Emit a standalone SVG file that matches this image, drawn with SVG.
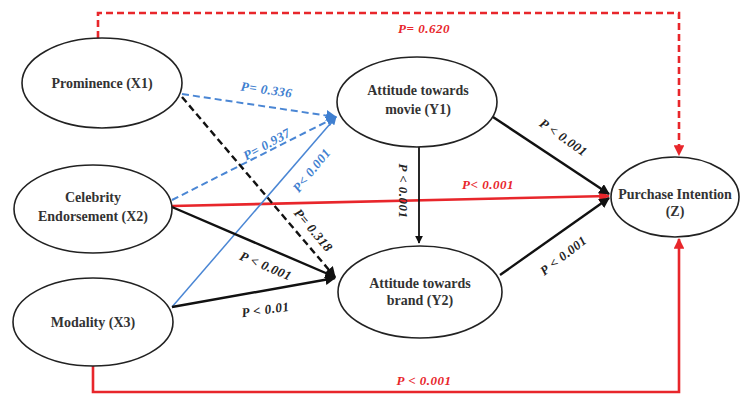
<svg xmlns="http://www.w3.org/2000/svg" width="742" height="396" viewBox="0 0 742 396">
<style>
.node ellipse{fill:#fff;stroke:#222;stroke-width:1.6}
.nt{font-family:"Liberation Serif","Times New Roman",serif;font-weight:bold;font-size:14px;fill:#333;text-anchor:middle}
.lb{font-family:"Liberation Serif","Times New Roman",serif;font-weight:bold;font-style:italic;font-size:13px;letter-spacing:0.5px;text-anchor:middle}
.k{fill:#222}.r{fill:#e8262b}.b{fill:#3f7fd0}
.ck{stroke:#111;stroke-width:2.4;fill:none}
.cr{stroke:#e8262b;stroke-width:2.6;fill:none}
.cb{stroke:#4a86d4;stroke-width:2;fill:none}
.dash{stroke-dasharray:7 4}
</style>
<defs>
<marker id="ak" viewBox="0 0 10 10" refX="9" refY="5" markerWidth="4.5" markerHeight="4.5" orient="auto" markerUnits="strokeWidth"><path d="M0,0L10,5L0,10z" fill="#111"/></marker>
<marker id="ar" viewBox="0 0 10 10" refX="9" refY="5" markerWidth="4.2" markerHeight="4.2" orient="auto" markerUnits="strokeWidth"><path d="M0,0L10,5L0,10z" fill="#e8262b"/></marker>
<marker id="ab" viewBox="0 0 10 10" refX="9" refY="5" markerWidth="5.5" markerHeight="5.5" orient="auto" markerUnits="strokeWidth"><path d="M0,0L10,5L0,10z" fill="#3f7fd0"/></marker>
</defs>
<rect width="742" height="396" fill="#fff"/>
<g id="connectors">
<path class="cr dash" d="M98,38V13H679V155" marker-end="url(#ar)"/>
<path class="cr" d="M93,366V392H679V239" marker-end="url(#ar)"/>
<path class="cr" d="M172,206L609,196" marker-end="url(#ar)"/>
<path class="cb dash" d="M182,94L336,117" marker-end="url(#ab)"/>
<path class="cb dash" d="M172,200L336,117" marker-end="url(#ab)"/>
<path class="cb" style="stroke-width:1.5" d="M172,307L336,117" marker-end="url(#ab)"/>
<path class="ck dash" d="M182,97L335,277" marker-end="url(#ak)"/>
<path class="ck" d="M172,207L335,277" marker-end="url(#ak)"/>
<path class="ck" d="M172,307L335,278" marker-end="url(#ak)"/>
<path class="ck" style="stroke-width:1.8" d="M419,147V243" marker-end="url(#ak)"/>
<path class="ck" d="M493,117L609,194" marker-end="url(#ak)"/>
<path class="ck" d="M500,275L609,198" marker-end="url(#ak)"/>
<text class="lb r" x="424" y="33">P= 0.620</text>
<text class="lb b" transform="translate(266,94) rotate(8)">P= 0.336</text>
<text class="lb b" transform="translate(269,148) rotate(-29)">P= 0.937</text>
<text class="lb b" transform="translate(315,173) rotate(-51)">P&lt; 0.001</text>
<text class="lb k" transform="translate(310,233) rotate(50)">P= 0.318</text>
<text class="lb k" transform="translate(264,270) rotate(23)">P &lt; 0.001</text>
<text class="lb k" transform="translate(266,314) rotate(-8)">P &lt; 0.01</text>
<text class="lb k" transform="translate(399,191) rotate(90)">P &lt; 0.001</text>
<text class="lb r" x="488" y="189">P&lt; 0.001</text>
<text class="lb k" transform="translate(561,141) rotate(35)">P &lt; 0.001</text>
<text class="lb k" transform="translate(566,259) rotate(-38)">P &lt; 0.001</text>
<text class="lb r" x="424" y="385">P &lt; 0.001</text>
</g>
<g id="X1" class="node"><ellipse cx="102" cy="83" rx="80" ry="45"/><text class="nt" x="102" y="88">Prominence (X1)</text></g>
<g id="X2" class="node"><ellipse cx="93" cy="209" rx="79" ry="44"/><text class="nt" x="93" y="202">Celebrity</text><text class="nt" x="93" y="221">Endorsement (X2)</text></g>
<g id="X3" class="node"><ellipse cx="93" cy="322" rx="80" ry="44"/><text class="nt" x="93" y="327">Modality (X3)</text></g>
<g id="Y1" class="node"><ellipse cx="417" cy="102" rx="80" ry="45"/><text class="nt" x="418" y="95">Attitude towards</text><text class="nt" x="418" y="114">movie (Y1)</text></g>
<g id="Y2" class="node"><ellipse cx="420" cy="292" rx="82" ry="46"/><text class="nt" x="420" y="288">Attitude towards</text><text class="nt" x="420" y="305">brand (Y2)</text></g>
<g id="Z" class="node"><ellipse cx="675" cy="197" rx="64" ry="40"/><text class="nt" x="675" y="199">Purchase Intention</text><text class="nt" x="675" y="216">(Z)</text></g>
</svg>
